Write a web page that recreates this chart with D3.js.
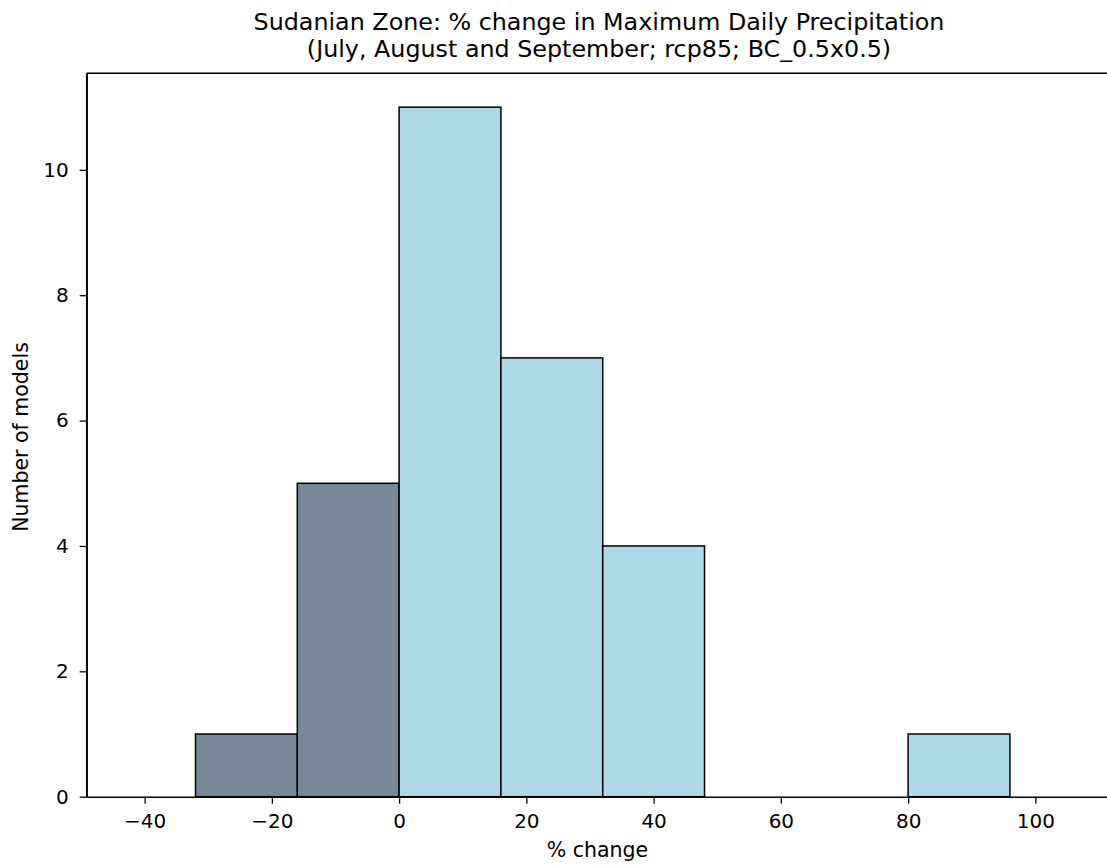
<!DOCTYPE html>
<html>
<head>
<meta charset="utf-8">
<script src="https://cdn.jsdelivr.net/npm/d3@7"></script>
<style>
  body { margin: 0; background: #fff; }
  text { font-family: "DejaVu Sans", sans-serif; fill: #000; }
</style>
</head>
<body>
<svg id="chart" width="1107" height="865"></svg>
<script>
const binStarts = [-32, -16, 0, 16, 32, 48, 64, 80];
const binWidth = 16;
const counts = [1, 5, 11, 7, 4, 0, 0, 1];
const xTicks = [-40, -20, 0, 20, 40, 60, 80, 100];
const yTicks = [0, 2, 4, 6, 8, 10];
const titleLines = ["Sudanian Zone: % change in Maximum Daily Precipitation",
                    "(July, August and September; rcp85; BC_0.5x0.5)"];
const xLabel = "% change";
const yLabel = "Number of models";

(function () {
const svg = d3.select("#chart");
const mL = 86.7, mR = 1113, mT = 73.3, mB = 796.7;
const x = d3.scaleLinear().domain([-49.1, 112.2]).range([mL, mR]);
const y = d3.scaleLinear().domain([0, 11.54]).range([mB, mT]);

const bins = binStarts.map((s, i) => ({x0: s, x1: s + binWidth, n: counts[i]})).filter(d => d.n > 0);

svg.append("g").selectAll("rect").data(bins).join("rect")
  .attr("x", d => x(d.x0))
  .attr("y", d => y(d.n))
  .attr("width", d => x(d.x1) - x(d.x0))
  .attr("height", d => y(0) - y(d.n))
  .attr("fill", d => d.x1 <= 0 ? "#778899" : "#ADD8E6")
  .attr("stroke", "#000")
  .attr("stroke-width", 1.5);

const sp = svg.append("g").attr("fill", "none").attr("stroke", "#000").attr("stroke-width", 1.5);
sp.append("line").attr("x1", mL).attr("x2", mL).attr("y1", mT).attr("y2", mB);
sp.append("line").attr("x1", mL).attr("x2", mR).attr("y1", mT).attr("y2", mT);
sp.append("line").attr("x1", mR).attr("x2", mR).attr("y1", mT).attr("y2", mB);

const xAxis = d3.axisBottom(x).tickValues(xTicks).tickSizeInner(7).tickSizeOuter(0).tickPadding(10)
  .tickFormat(d => d3.format("d")(d).replace("-", "\u2212"));
const gx = svg.append("g").attr("transform", `translate(0,${mB})`).call(xAxis);
const yAxis = d3.axisLeft(y).tickValues(yTicks).tickSizeInner(7).tickSizeOuter(0).tickPadding(11);
const gy = svg.append("g").attr("transform", `translate(${mL},0)`).call(yAxis);
[gx, gy].forEach(g => {
  g.attr("font-size", null).attr("font-family", null);
  g.select(".domain").attr("stroke", "#000").attr("stroke-width", 1.5);
  g.selectAll(".tick line").attr("stroke", "#000").attr("stroke-width", 1.3);
  g.selectAll(".tick text").attr("font-family", "DejaVu Sans, sans-serif").attr("font-size", 20).attr("fill", "#222");
});

svg.selectAll(".title").data(titleLines).join("text")
  .attr("x", 599)
  .attr("y", (d, i) => 30 + i * 26.5)
  .attr("text-anchor", "middle")
  .attr("font-size", 23.8)
  .attr("fill", "#111")
  .text(d => d);

svg.append("text").attr("x", 597.5).attr("y", 857)
  .attr("text-anchor", "middle").attr("font-size", 20.5).attr("fill", "#222").text(xLabel);

svg.append("text").attr("transform", `translate(28,${(mT + mB) / 2 + 2}) rotate(-90)`)
  .attr("text-anchor", "middle").attr("font-size", 20.5).attr("fill", "#222").text(yLabel);
})();
</script>
</body>
</html>
